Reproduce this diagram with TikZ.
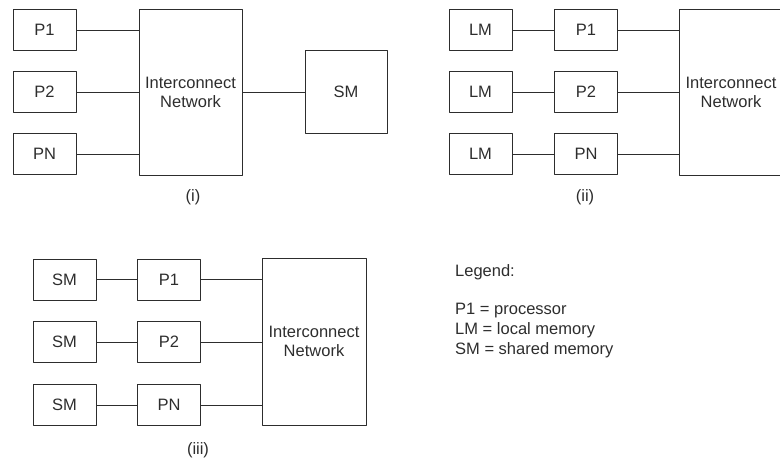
\documentclass[tikz,border=0pt]{standalone}
\usepackage{fontspec}
\setmainfont{Liberation Sans}
\usetikzlibrary{calc}
\definecolor{inkgray}{RGB}{45,45,45}
\tikzset{
    unit/.style={
        draw=inkgray, line width=0.8pt, inner sep=2pt,
        minimum width=63pt, minimum height=41pt,
        font=\fontsize{16.5}{19}\selectfont, text=inkgray
    },
    netbox/.style={
        unit, minimum width=103pt, minimum height=166pt, align=center
    },
    wire/.style={draw=inkgray, line width=0.8pt},
    lab/.style={
        font=\fontsize{16.5}{19.5}\selectfont, text=inkgray
    }
}
\begin{document}
\begin{tikzpicture}[x=1pt,y=-1pt,line cap=round,line join=round]

% --- page size (same as the reference) ---
    \useasboundingbox (0,0) rectangle (780,464);

% --- panel (i): processors and one shared memory ---
    \node[unit] (pa1) at (44.5,30) {P1};
    \node[unit] (pa2) at (44.5,92) {P2};
    \node[unit] (paN) at (44.5,154) {PN};
    \node[netbox] (neta) at (190.5,92) {Interconnect\\Network};
    \node[unit, minimum width=82pt, minimum height=83pt] (sma) at (346,92) {SM};
    \draw[wire] (pa1.east) -- (pa1.east -| neta.west);
    \draw[wire] (pa2.east) -- (pa2.east -| neta.west);
    \draw[wire] (paN.east) -- (paN.east -| neta.west);
    \draw[wire] (neta.east) -- (sma.west);
    \node[lab] (capa) at (193,197) {(i)};

% --- panel (ii): processors with local memory ---
    \node[unit] (lmb1) at (480.5,30) {LM};
    \node[unit] (lmb2) at (480.5,92) {LM};
    \node[unit] (lmbN) at (480.5,154) {LM};
    \node[unit] (pb1) at (586,30) {P1};
    \node[unit] (pb2) at (586,92) {P2};
    \node[unit] (pbN) at (586,154) {PN};
    \node[netbox] (netb) at (731,92) {Interconnect\\Network};
    \draw[wire] (lmb1) -- (pb1);
    \draw[wire] (lmb2) -- (pb2);
    \draw[wire] (lmbN) -- (pbN);
    \draw[wire] (pb1.east) -- (pb1.east -| netb.west);
    \draw[wire] (pb2.east) -- (pb2.east -| netb.west);
    \draw[wire] (pbN.east) -- (pbN.east -| netb.west);
    \node[lab] (capb) at (585,197) {(ii)};

% --- panel (iii): processors with shared memory ---
    \node[unit] (smc1) at (64.5,279.5) {SM};
    \node[unit] (smc2) at (64.5,342) {SM};
    \node[unit] (smcN) at (64.5,405) {SM};
    \node[unit] (pc1) at (169,279.5) {P1};
    \node[unit] (pc2) at (169,342) {P2};
    \node[unit] (pcN) at (169,405) {PN};
    \node[netbox, minimum width=104pt, minimum height=167pt] (netc) at (314,341.5) {Interconnect\\Network};
    \draw[wire] (smc1) -- (pc1);
    \draw[wire] (smc2) -- (pc2);
    \draw[wire] (smcN) -- (pcN);
    \draw[wire] (pc1.east) -- (pc1.east -| netc.west);
    \draw[wire] (pc2.east) -- (pc2.east -| netc.west);
    \draw[wire] (pcN.east) -- (pcN.east -| netc.west);
    \node[lab] (capc) at (198,450) {(iii)};

% --- legend ---
    \node[lab, anchor=west, inner sep=0pt] (leghead) at (455,272) {Legend:};
    \node[lab, anchor=west, inner sep=0pt] (legp) at (455,311) {P1 = processor};
    \node[lab, anchor=west, inner sep=0pt] (leglm) at (455,330) {LM = local memory};
    \node[lab, anchor=west, inner sep=0pt] (legsm) at (455,350) {SM = shared memory};

\end{tikzpicture}
\end{document}
